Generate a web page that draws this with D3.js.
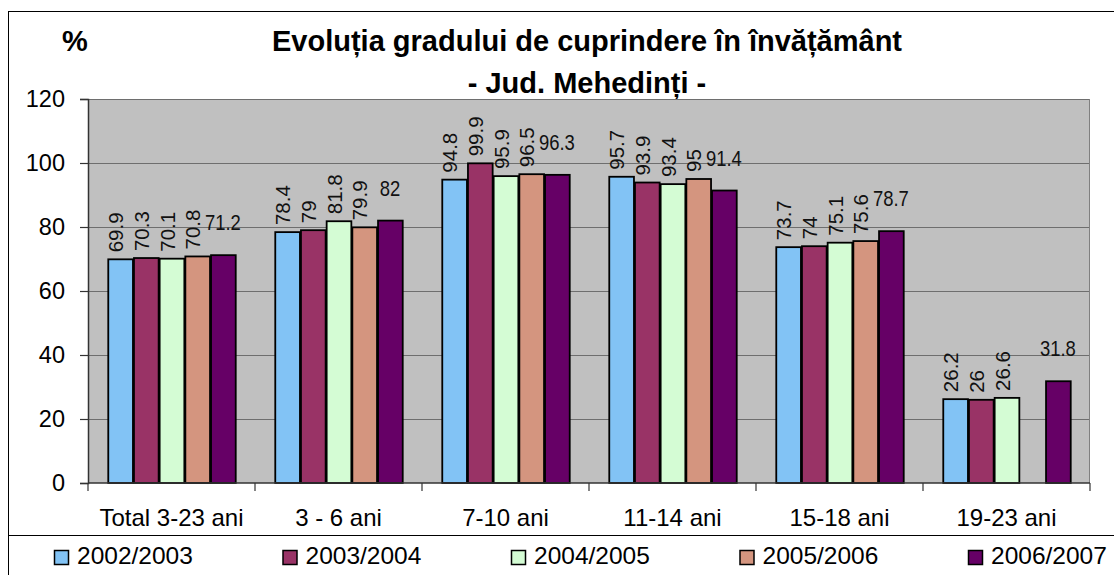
<!DOCTYPE html>
<html>
<head>
<meta charset="utf-8">
<script src="https://cdn.jsdelivr.net/npm/d3@7"></script>
<style>
body { margin: 0; background: #fff; }
svg { font-family: "Liberation Sans", Arial, sans-serif; display: block; }
</style>
</head>
<body>
<svg id="chart" width="1114" height="575"></svg>
<script>
var categorii = ['Total 3-23 ani', '3 - 6 ani', '7-10 ani', '11-14 ani', '15-18 ani', '19-23 ani'];
var serii = ['2002/2003', '2003/2004', '2004/2005', '2005/2006', '2006/2007'];
var culori = ['#82c3f5', '#993366', '#d4fcd4', '#d4957f', '#660066'];

var v2002 = [69.9, 78.4, 94.8, 95.7, 73.7, 26.2];
var v2003 = [70.3, 79, 99.9, 93.9, 74, 26];
var v2004 = [70.1, 81.8, 95.9, 93.4, 75.1, 26.6];
var v2005 = [70.8, 79.9, 96.5, 95, 75.6, null];
var v2006 = [71.2, 82, 96.3, 91.4, 78.7, 31.8];
var yTicks = [0, 20, 40, 60, 80, 100, 120];

var valori = [v2002, v2003, v2004, v2005, v2006];

const svg = d3.select("#chart"),
	margin = {top: 99, right: 24, bottom: 92, left: 88},
	width = +svg.attr("width") - margin.left - margin.right,
	height = +svg.attr("height") - margin.top - margin.bottom;

// chenar exterior
svg.append("rect")
	.attr("x", 8.5).attr("y", 11.5)
	.attr("width", 1200).attr("height", 600)
	.attr("fill", "#fff").attr("stroke", "#000");

// titlu
svg.append("text")
	.attr("x", 587).attr("y", 51)
	.attr("text-anchor", "middle")
	.attr("font-size", 29).attr("font-weight", "bold")
	.text("Evoluția gradului de cuprindere în învățământ");
svg.append("text")
	.attr("x", 587).attr("y", 93)
	.attr("text-anchor", "middle")
	.attr("font-size", 29).attr("font-weight", "bold")
	.text("- Jud. Mehedinți -");
svg.append("text")
	.attr("x", 62).attr("y", 51)
	.attr("font-size", 29).attr("font-weight", "bold")
	.text("%");

const x0 = d3.scaleBand().domain(categorii).range([0, width]),
	x1 = d3.scaleBand().domain(serii).range([0, x0.bandwidth()]).paddingOuter(0.75),
	y = d3.scaleLinear().domain([0, 120]).range([height, 0]),
	g = svg.append("g").attr("transform", `translate(${margin.left},${margin.top})`);

g.append("rect")
	.attr("width", width).attr("height", height)
	.attr("fill", "#c0c0c0");

// grila
g.selectAll(".grid")
	.data(yTicks.filter(d => d > 0))
	.enter().append("line")
	.attr("x1", 0).attr("x2", width)
	.attr("y1", d => y(d) + 0.5).attr("y2", d => y(d) + 0.5)
	.attr("stroke", "#6e6e6e").attr("stroke-width", 1.2);

g.append("line")
	.attr("x1", width - 0.5).attr("x2", width - 0.5)
	.attr("y1", 0).attr("y2", height)
	.attr("stroke", "#808080");

// bare
const grupuri = g.selectAll(".grup")
	.data(categorii)
	.enter().append("g")
	.attr("transform", d => `translate(${x0(d)},0)`);

grupuri.selectAll("rect")
	.data((c, i) => serii.map((s, j) => ({serie: s, j: j, v: valori[j][i]})).filter(d => d.v != null))
	.enter().append("rect")
	.attr("x", d => x1(d.serie) + 1)
	.attr("y", d => y(d.v))
	.attr("width", x1.bandwidth() - 1)
	.attr("height", d => height - y(d.v))
	.attr("fill", d => culori[d.j])
	.attr("stroke", "#000").attr("stroke-width", 1.8);

// etichete
grupuri.selectAll(".eticheta")
	.data((c, i) => serii.map((s, j) => ({serie: s, j: j, v: valori[j][i]})).filter(d => d.v != null))
	.enter().append("text")
	.attr("font-size", 20.5)
	.attr("fill", "#111")
	.attr("text-anchor", d => d.j == 4 ? "middle" : "start")
	.attr("transform", function(d) {
		const cx = x1(d.serie) + x1.bandwidth() / 2;
		if (d.j == 4) return `translate(${cx},${y(d.v) - 25}) scale(0.9,1.1)`;
		return `translate(${cx + 3},${y(d.v) - 7}) rotate(-90)`;
	})
	.text(d => d.v);

// axe
g.append("g")
	.attr("transform", `translate(0,${height})`)
	.call(d3.axisBottom(x0).tickSize(0).tickPadding(0))
	.call(a => a.select(".domain").remove())
	.call(a => a.selectAll("text").attr("y", 43).attr("dy", 0)
		.attr("font-size", 24).attr("fill", "#000").attr("font-family", null));

g.append("g")
	.selectAll("line")
	.data(categorii.concat(["__end"]))
	.enter().append("line")
	.attr("x1", d => d == "__end" ? width : x0(d))
	.attr("x2", d => d == "__end" ? width : x0(d))
	.attr("y1", height).attr("y2", height + 8)
	.attr("stroke", "#333").attr("stroke-width", 1.2);

g.append("line")
	.attr("x1", 0).attr("x2", width)
	.attr("y1", height).attr("y2", height)
	.attr("stroke", "#333").attr("stroke-width", 1.5);

g.append("g")
	.call(d3.axisLeft(y).tickValues(yTicks).tickSize(8).tickPadding(15))
	.call(a => a.select(".domain").attr("stroke", "#333").attr("stroke-width", 1.5))
	.call(a => a.selectAll(".tick line").attr("stroke", "#333").attr("stroke-width", 1.2))
	.call(a => a.selectAll("text").attr("font-size", 23.5).attr("fill", "#000").attr("font-family", null));

// legenda
svg.append("rect")
	.attr("x", 8.5).attr("y", 535.5)
	.attr("width", 1200).attr("height", 100)
	.attr("fill", "#fff").attr("stroke", "#000");

const xl = d3.scaleBand().domain(serii).range([54, 54 + 5 * 228.5]);
const leg = svg.selectAll(".leg")
	.data(serii)
	.enter().append("g")
	.attr("transform", d => `translate(${xl(d)},0)`);
leg.append("rect")
	.attr("x", 0.5).attr("y", 550.5)
	.attr("width", 14).attr("height", 14)
	.attr("fill", (d, i) => culori[i])
	.attr("stroke", "#000").attr("stroke-width", 1.5);
leg.append("text")
	.attr("x", 23).attr("y", 564)
	.attr("font-size", 24.5)
	.text(d => d);
</script>
</body>
</html>
